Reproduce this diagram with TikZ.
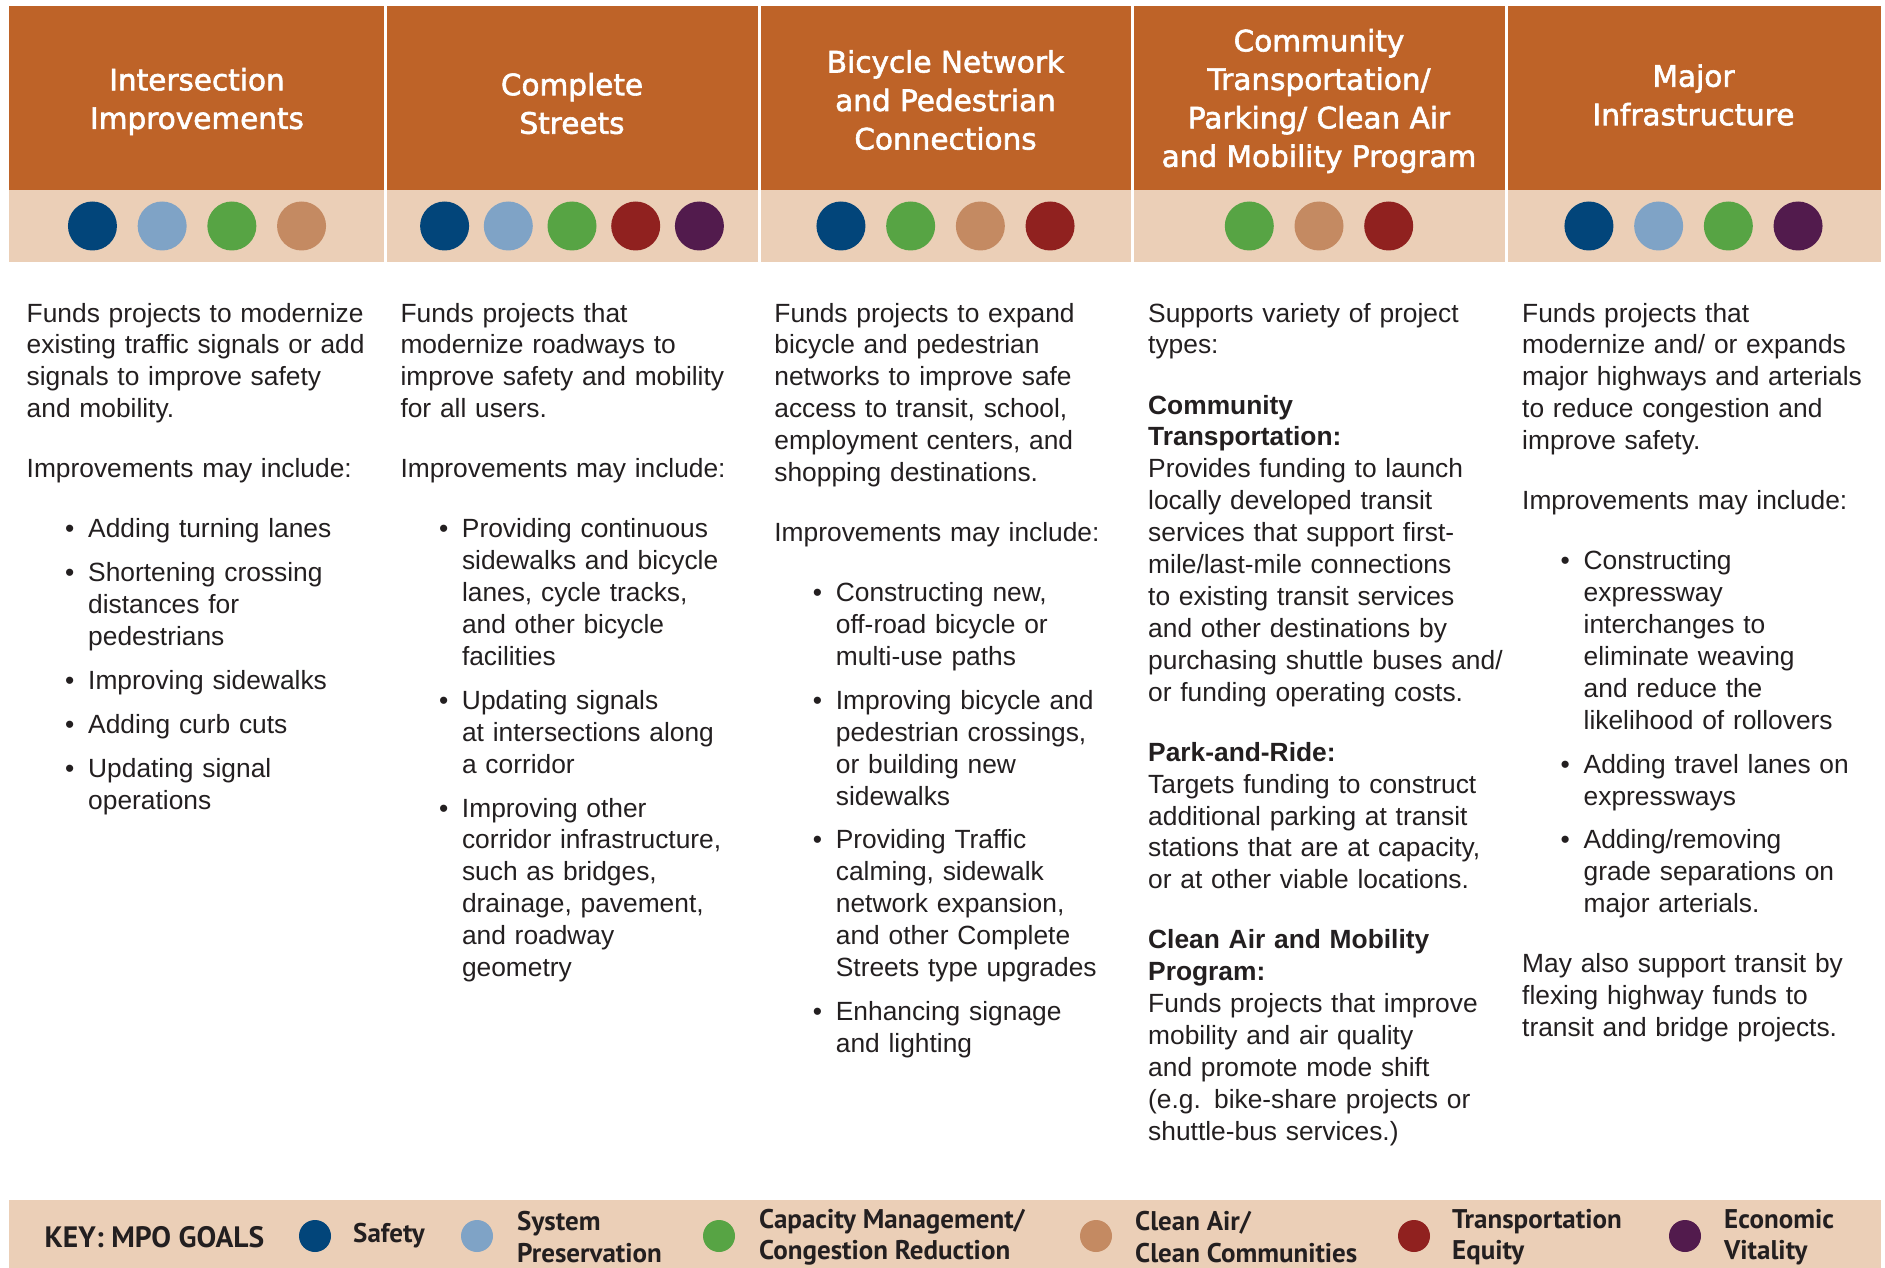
\documentclass[tikz,border=0pt]{standalone}
\usepackage{fontspec}
\setmainfont{Liberation Sans}
\newfontfamily\headfont[FakeBold=2]{DejaVu Sans}
\newfontfamily\keyfont{PT Sans}
\definecolor{hdr}{RGB}{190,99,40}
\definecolor{bge}{RGB}{235,207,183}
\definecolor{gnavy}{RGB}{2,69,122}
\definecolor{glblue}{RGB}{127,163,198}
\definecolor{ggreen}{RGB}{87,164,68}
\definecolor{gtan}{RGB}{196,138,98}
\definecolor{gred}{RGB}{144,33,31}
\definecolor{gpurple}{RGB}{82,27,77}
\definecolor{txt}{RGB}{35,31,32}
\newcommand\pg{\par\vspace{28.2pt}}
\newcommand\bg{\par\vspace{12pt}}
\newcommand\bul[1]{\noindent\makebox[61.5pt][l]{\hspace{38.5pt}\textbullet}\parbox[t]{300pt}{#1\strut}\par\prevdepth=\dp\strutbox}
\tikzset{
  headtxt/.style={text=white, align=center, inner sep=0pt,
    font=\headfont\fontsize{29.5}{38.5}\selectfont},
  dot/.style={circle, inner sep=0pt, minimum size=49pt},
  keydot/.style={circle, inner sep=0pt, minimum size=32pt},
  bodytxt/.style={anchor=base west, inner sep=0pt, text width=365pt, align=left, text=txt,
    font=\fontsize{26.35}{31.9}\selectfont\setlength\parindent{0pt}},
  keytxt/.style={anchor=west, inner sep=0pt, align=left, text=txt,
    font=\keyfont\bfseries\fontsize{27}{31.3}\selectfont}
}
\begin{document}
\begin{tikzpicture}[x=1pt,y=-1pt]
\useasboundingbox (0,0) rectangle (1885,1268);
\fill[white] (0,0) rectangle (1885,1268);
% header band
\fill[hdr] (9,6) rectangle (1881,190);
\fill[bge] (9,190) rectangle (1881,261.5);
\foreach \xs in {385,759,1132,1506}{
  \draw[white, line width=3pt] (\xs,6) -- (\xs,261.5);
}
% header titles
\node[headtxt] (h1) at (197,101.5) {Intersection\\Improvements};
\node[headtxt] (h2) at (572,103.5) {Complete\\Streets};
\node[headtxt] (h3) at (945.5,100) {Bicycle Network\\and Pedestrian\\Connections};
\node[headtxt] (h4) at (1319,101) {Community\\Transportation/\\Parking/ Clean Air\\and Mobility Program};
\node[headtxt] (h5) at (1693.5,95) {Major\\Infrastructure};
% goal dots
\foreach \c [count=\i] in {gnavy,glblue,ggreen,gtan}
  \node[dot, fill=\c] (a\i) at ({197+(\i-2.5)*69.7},226) {};
\foreach \c [count=\i] in {gnavy,glblue,ggreen,gred,gpurple}
  \node[dot, fill=\c] (b\i) at ({572+(\i-3)*63.7},226) {};
\foreach \c [count=\i] in {gnavy,ggreen,gtan,gred}
  \node[dot, fill=\c] (d\i) at ({945.5+(\i-2.5)*69.7},226) {};
\foreach \c [count=\i] in {ggreen,gtan,gred}
  \node[dot, fill=\c] (e\i) at ({1319+(\i-2)*69.7},226) {};
\foreach \c [count=\i] in {gnavy,glblue,ggreen,gpurple}
  \node[dot, fill=\c] (f\i) at ({1693.5+(\i-2.5)*69.7},226) {};
% body text
\node[bodytxt] (t1) at (26.5,322) {Funds projects to modernize\\existing traffic signals or add\\signals to improve safety\\and mobility.\pg
Improvements may include:\pg
\bul{Adding turning lanes}\bg
\bul{Shortening crossing\\distances for\\pedestrians}\bg
\bul{Improving sidewalks}\bg
\bul{Adding curb cuts}\bg
\bul{Updating signal\\operations}};
\node[bodytxt] (t2) at (400.3,322) {Funds projects that\\modernize roadways to\\improve safety and mobility\\for all users.\pg
Improvements may include:\pg
\bul{Providing continuous\\sidewalks and bicycle\\lanes, cycle tracks,\\and other bicycle\\facilities}\bg
\bul{Updating signals\\at intersections along\\a corridor}\bg
\bul{Improving other\\corridor infrastructure,\\such as bridges,\\drainage, pavement,\\and roadway\\geometry}};
\node[bodytxt] (t3) at (774.2,322) {Funds projects to expand\\bicycle and pedestrian\\networks to improve safe\\access to transit, school,\\employment centers, and\\shopping destinations.\pg
Improvements may include:\pg
\bul{Constructing new,\\off-road bicycle or\\multi-use paths}\bg
\bul{Improving bicycle and\\pedestrian crossings,\\or building new\\sidewalks}\bg
\bul{Providing Traffic\\calming, sidewalk\\network expansion,\\and other Complete\\Streets type upgrades}\bg
\bul{Enhancing signage\\and lighting}};
\node[bodytxt] (t4) at (1148,322) {Supports variety of project\\types:\pg
{\bfseries Community\\Transportation:}\\Provides funding to launch\\locally developed transit\\services that support first-\\mile/last-mile connections\\to existing transit services\\and other destinations by\\purchasing shuttle buses and/\\or funding operating costs.\pg
{\bfseries Park-and-Ride:}\\Targets funding to construct\\additional parking at transit\\stations that are at capacity,\\or at other viable locations.\pg
{\bfseries Clean Air and Mobility\\Program:}\\Funds projects that improve\\mobility and air quality\\and promote mode shift\\(e.g. bike-share projects or\\shuttle-bus services.)};
\node[bodytxt] (t5) at (1522,322) {Funds projects that\\modernize and/ or expands\\major highways and arterials\\to reduce congestion and\\improve safety.\pg
Improvements may include:\pg
\bul{Constructing\\expressway\\interchanges to\\eliminate weaving\\and reduce the\\likelihood of rollovers}\bg
\bul{Adding travel lanes on\\expressways}\bg
\bul{Adding/removing\\grade separations on\\major arterials.}\pg
May also support transit by\\flexing highway funds to\\transit and bridge projects.};
% key bar
\fill[bge] (9,1200) rectangle (1881,1268);
\node[keytxt, font=\keyfont\bfseries\fontsize{29.5}{31.3}\selectfont] (key) at (44.5,1237) {KEY: MPO GOALS};
\node[keydot, fill=gnavy] (k1) at (315,1236) {};
\node[keytxt] (l1) at (353,1236) {Safety};
\node[keydot, fill=glblue] (k2) at (477,1236) {};
\node[keytxt] (l2) at (517,1237) {System\\Preservation};
\node[keydot, fill=ggreen] (k3) at (719,1236) {};
\node[keytxt] (l3) at (759,1237) {Capacity Management/\\Congestion Reduction};
\node[keydot, fill=gtan] (k4) at (1096,1236) {};
\node[keytxt] (l4) at (1135,1237) {Clean Air/\\Clean Communities};
\node[keydot, fill=gred] (k5) at (1414,1236) {};
\node[keytxt] (l5) at (1452,1237) {Transportation\\Equity};
\node[keydot, fill=gpurple] (k6) at (1685,1236) {};
\node[keytxt] (l6) at (1724,1237) {Economic\\Vitality};
\end{tikzpicture}
\end{document}
